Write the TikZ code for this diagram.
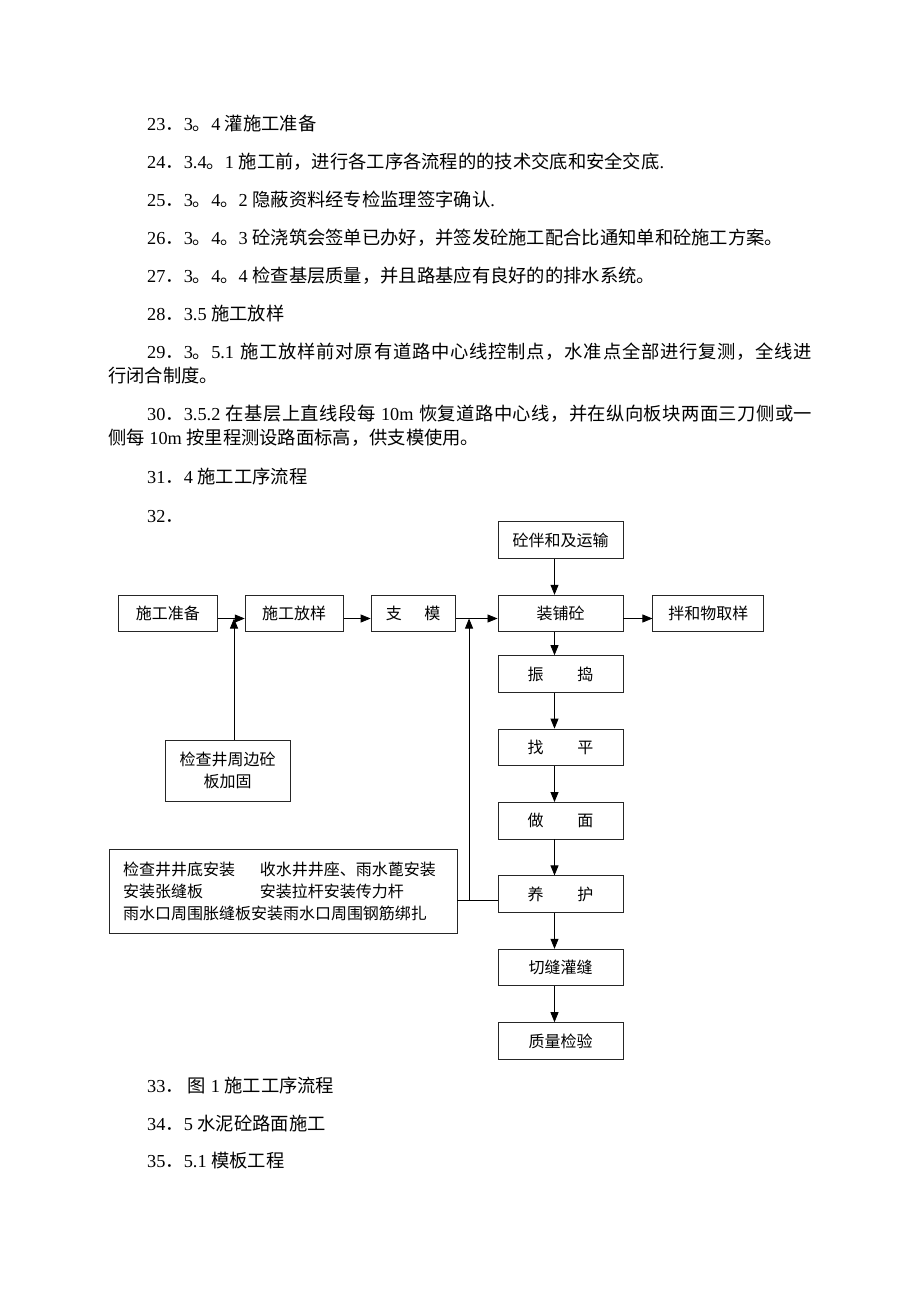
\documentclass[tikz,border=0pt]{standalone}
\usepackage{fontspec}
\setmainfont{Noto Sans CJK SC}
\newfontfamily\latfont{Liberation Serif}
\newcommand\lat[1]{{\latfont #1}}
\usetikzlibrary{arrows.meta, positioning, calc}

% stretchable glue between CJK characters, used for the two justified lines
\newXeTeXintercharclass\cjkcls
\newcount\cjkc
\cjkc="4E00 \loop \XeTeXcharclass\cjkc=\cjkcls \advance\cjkc by 1 \ifnum\cjkc<"A000 \repeat
\cjkc="3000 \loop \XeTeXcharclass\cjkc=\cjkcls \advance\cjkc by 1 \ifnum\cjkc<"3040 \repeat
\cjkc="FF00 \loop \XeTeXcharclass\cjkc=\cjkcls \advance\cjkc by 1 \ifnum\cjkc<"FFF0 \repeat
\XeTeXinterchartoks\cjkcls\cjkcls={\hskip0pt plus 1pt\relax}
\newcommand\justline[2]{{\XeTeXinterchartokenstate=1 \makebox[#1][s]{#2}}}

\begin{document}
\begin{tikzpicture}[x=1pt,y=-1pt,
  box/.style={draw=black!85,line width=0.9pt,minimum height=36.5pt,inner sep=0pt,font=\fontsize{16}{22}\selectfont},
  arr/.style={draw=black,line width=0.8pt,-{Triangle[length=10pt,width=8pt]}},
  body/.style={anchor=base west,inner sep=0pt,font=\fontsize{18.3}{22}\selectfont}]
\fill[white] (0,0) rectangle (920,1302);
\useasboundingbox (0,0) rectangle (920,1302);

\node[body] (l23) at (147,130) {\lat{23}．\lat{3}。\lat{4 }灌施工准备};
\node[body] (l24) at (147,168) {\lat{24}．\lat{3.4}。\lat{1 }施工前，进行各工序各流程的的技术交底和安全交底\lat{.}};
\node[body] (l25) at (147,206) {\lat{25}．\lat{3}。\lat{4}。\lat{2 }隐蔽资料经专检监理签字确认\lat{.}};
\node[body] (l26) at (147,244) {\lat{26}．\lat{3}。\lat{4}。\lat{3 }砼浇筑会签单已办好，并签发砼施工配合比通知单和砼施工方案。};
\node[body] (l27) at (147,282) {\lat{27}．\lat{3}。\lat{4}。\lat{4 }检查基层质量，并且路基应有良好的的排水系统。};
\node[body] (l28) at (147,320) {\lat{28}．\lat{3.5 }施工放样};
\node[body] (l29) at (147,358) {\justline{665pt}{\lat{29}．\lat{3}。\lat{5.1 }施工放样前对原有道路中心线控制点，水准点全部进行复测，全线进}};
\node[body] (l29b) at (108,382) {行闭合制度。};
\node[body] (l30) at (147,420) {\justline{665pt}{\lat{30}．\lat{3.5.2 }在基层上直线段每\lat{\ 10m }恢复道路中心线，并在纵向板块两面三刀侧或一}};
\node[body] (l30b) at (108,444) {侧每\lat{\ 10m }按里程测设路面标高，供支模使用。};
\node[body] (l31) at (147,483) {\lat{31}．\lat{4 }施工工序流程};
\node[body] (l32) at (147,522) {\lat{32}．};

% flow chart
\node[box,minimum width=125pt] (pave) at (560.5,613.5) {装铺砼};
\node[box,minimum width=125pt,above=36pt of pave] (mix) {砼伴和及运输};
\node[box,minimum width=111pt,right=29pt of pave] (sample) {拌和物取样};
\node[box,minimum width=84pt,left=42pt of pave] (formwork) {支\hspace{1.4em}模};
\node[box,minimum width=98pt,left=27pt of formwork] (layout) {施工放样};
\node[box,minimum width=99pt,left=27pt of layout] (prep) {施工准备};

\node[box,minimum width=125pt,below=23pt of pave] (vibrate) {振\hspace{2.1em}捣};
\node[box,minimum width=125pt,below=36pt of vibrate] (level) {找\hspace{2.1em}平};
\node[box,minimum width=125pt,below=36pt of level] (surface) {做\hspace{2.1em}面};
\node[box,minimum width=125pt,below=36pt of surface] (cure) {养\hspace{2.1em}护};
\node[box,minimum width=125pt,below=36pt of cure] (cut) {切缝灌缝};
\node[box,minimum width=125pt,below=36pt of cut] (check) {质量检验};

\node[box,minimum width=125pt,minimum height=61pt,align=center] (well) at (227.5,770.5) {检查井周边砼\\板加固};
\node[box,minimum width=348pt,minimum height=84pt,text width=320pt,align=left] (misc) at (283,891)
  {\makebox[8.56em][l]{检查井井底安装}收水井井座、雨水蓖安装\\
   \makebox[8.56em][l]{安装张缝板}安装拉杆安装传力杆\\
   雨水口周围胀缝板安装雨水口周围钢筋绑扎};

\draw[arr] ([yshift=-5pt]prep.east) -- ([yshift=-5pt]layout.west);
\draw[arr] ([yshift=-5pt]layout.east) -- ([yshift=-5pt]formwork.west);
\draw[arr] ([yshift=-5pt]formwork.east) -- ([yshift=-5pt]pave.west);
\draw[arr] ([yshift=-5pt]pave.east) -- ([yshift=-5pt]sample.west);

\draw[arr] ([xshift=-6pt]mix.south) -- ([xshift=-6pt]pave.north);
\draw[arr] ([xshift=-6pt]pave.south) -- ([xshift=-6pt]vibrate.north);
\draw[arr] ([xshift=-6pt]vibrate.south) -- ([xshift=-6pt]level.north);
\draw[arr] ([xshift=-6pt]level.south) -- ([xshift=-6pt]surface.north);
\draw[arr] ([xshift=-6pt]surface.south) -- ([xshift=-6pt]cure.north);
\draw[arr] ([xshift=-6pt]cure.south) -- ([xshift=-6pt]cut.north);
\draw[arr] ([xshift=-6pt]cut.south) -- ([xshift=-6pt]check.north);

\coordinate (t1) at ([yshift=-5pt]layout.west);
\coordinate (w1) at ([xshift=6.5pt]well.north);
\draw[arr] (w1) -- (w1 |- t1);

\coordinate (t2) at ([yshift=-5pt]pave.west);
\coordinate (c1) at ([yshift=-6pt]cure.west);
\coordinate (v2) at ($(formwork.east |- c1)+(13.5,0)$);
\draw[line width=0.8pt] (c1 -| misc.east) -- (c1);
\draw[arr] (v2) -- (v2 |- t2);

\node[body] (l33) at (147,1092) {\lat{33}．\ 图\lat{\ 1 }施工工序流程};
\node[body] (l34) at (147,1130) {\lat{34}．\lat{5 }水泥砼路面施工};
\node[body] (l35) at (147,1167) {\lat{35}．\lat{5.1 }模板工程};
\end{tikzpicture}
\end{document}
